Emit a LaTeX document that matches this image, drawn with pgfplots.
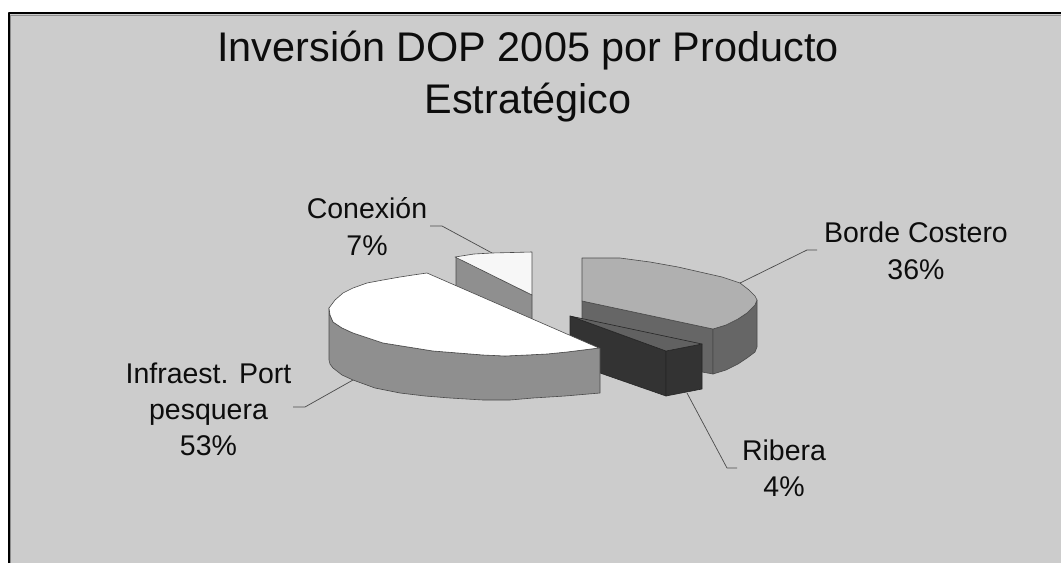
\documentclass[border=0pt]{standalone}
\usepackage{pgfplots}
\pgfplotsset{compat=1.18}
\usepackage{fontspec}
\setmainfont{Liberation Sans}
\definecolor{bg}{HTML}{CCCCCC}
\definecolor{edge}{HTML}{4A4A4A}
\tikzset{ttl/.style={font=\fontsize{41.4}{50}\selectfont,anchor=base,inner sep=0pt,text=black!95},
         lbl/.style={font=\fontsize{28.5}{36}\selectfont,anchor=base,inner sep=0pt,text=black!95}}
\begin{document}
\begin{tikzpicture}
\begin{axis}[
  width=1061pt,height=563pt,scale only axis,
  xmin=0,xmax=1061,ymin=0,ymax=563,y dir=reverse,
  hide axis,clip=true,
  every axis plot/.append style={line join=round},
]
% page and panel
\addplot[fill=white,draw=none] coordinates {(0,0)(1061,0)(1061,563)(0,563)} -- cycle;
\addplot[fill=bg,draw=none] coordinates {(8.5,13)(1061,13)(1061,563)(8.5,563)} -- cycle;
\addplot[draw=black,line width=2.4pt] coordinates {(8.7,563)(8.7,13.2)(1061,13.2)};
\addplot[draw=black!45,line width=0.8pt] coordinates {(10.5,563)(10.5,15)(1061,15)};
% leaders
\addplot[draw=edge,line width=0.7pt] coordinates {(430,226)(442,226)(492,253)};
\addplot[draw=edge,line width=0.7pt] coordinates {(740,283)(807,250)(817,250)};
\addplot[draw=edge,line width=0.7pt] coordinates {(353,380)(305,407)(293,407)};
\addplot[draw=edge,line width=0.7pt] coordinates {(687,393)(727,468)(737,468)};
% Conexion 7%
\addplot[fill=black!44,draw=edge,line width=0.6pt] coordinates {(456,257)(532,295)(532,322)(503,312)(456,287)} -- cycle;
\addplot[fill=black!3,draw=edge,line width=0.6pt] coordinates {(455,257)(474,254)(492,253)(532,252)(532,295)} -- cycle;
% Borde Costero 36%
\addplot[fill=black!60,draw=edge,line width=0.6pt] coordinates {(582,301)(713,329)(713,374)(702,372)(582,320)} -- cycle;
\addplot[fill=black!60,draw=edge,line width=0.6pt] coordinates {(713,329)(726,325)(738,319)(747,313)(755,305)(757,300)(757,347)(755,352)(747,358)(738,364)(726,370)(713,374)} -- cycle;
\addplot[fill=black!31,draw=edge,line width=0.6pt] coordinates {(582,258)(600,258)(620,258)(635,260)(650,262)(678,267)(700,272)(722,277)(740,283)(749,290)(755,296)(757,300)(755,305)(747,313)(738,319)(726,325)(713,329)(582,301)} -- cycle;
% Ribera 4%
\addplot[fill=black!80,draw=black!85,line width=0.6pt] coordinates {(570,316)(666,351)(666,396)(600,373)(600,348)(570,337)} -- cycle;
\addplot[fill=black!80,draw=black!85,line width=0.6pt] coordinates {(666,351)(702,344)(702,389)(666,396)} -- cycle;
\addplot[fill=black!62,draw=black!85,line width=0.6pt] coordinates {(570,316)(702,344)(666,351)} -- cycle;
% Infraestructura 53%
\addplot[fill=black!44,draw=edge,line width=0.6pt] coordinates {(329,308)(329,360)(330,364)(333,368)(342,375)(353,380)(375,388)(400,393)(425,396)(450,398)(483,400)(510,400)(533,398)(565,396)(600,393)(600,348)(567,352)(547,354)(527,355)(505,356)(483,355)(458,353)(433,351)(408,347)(383,343)(368,338)(353,333)(342,328)(333,322)(330,315)} -- cycle;
\addplot[fill=white,draw=edge,line width=0.6pt] coordinates {(427,273)(413,275)(400,277)(383,280)(367,283)(353,288)(343,293)(335,300)(329,308)(330,315)(333,322)(342,328)(353,333)(368,338)(383,343)(408,347)(433,351)(458,353)(483,355)(505,356)(527,355)(547,354)(567,352)(599,348)} -- cycle;
% texts
\node[ttl] at (axis cs:528,61) {Inversión DOP 2005 por Producto};
\node[ttl] at (axis cs:528,113) {Estratégico};
\node[lbl] at (axis cs:367,218) {Conexión};
\node[lbl] at (axis cs:367,255) {7\%};
\node[lbl] at (axis cs:916,242) {Borde Costero};
\node[lbl] at (axis cs:916,279) {36\%};
\node[lbl] at (axis cs:208.5,383) {Infraest. Port};
\node[lbl] at (axis cs:208.5,419) {pesquera};
\node[lbl] at (axis cs:208.5,455) {53\%};
\node[lbl] at (axis cs:784,460) {Ribera};
\node[lbl] at (axis cs:784,496) {4\%};
\end{axis}
\end{tikzpicture}
\end{document}
